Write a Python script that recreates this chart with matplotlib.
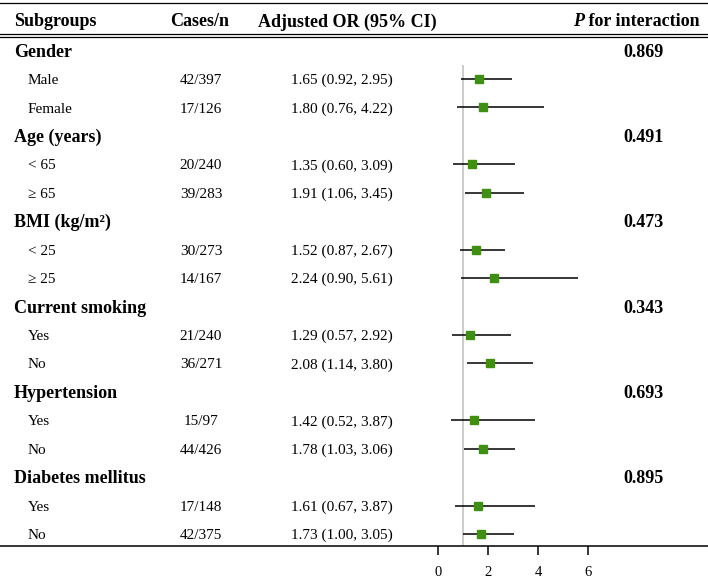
import matplotlib
matplotlib.use("Agg")
import matplotlib.pyplot as plt
from matplotlib.transforms import blended_transform_factory

plt.rcParams['font.family'] = ['Liberation Serif', 'DejaVu Serif']

# ---------------- data ----------------
groups = ["Gender", "Age (years)", "BMI (kg/m\u00b2)", "Current smoking",
          "Hypertension", "Diabetes mellitus"]
p_interaction = ["0.869", "0.491", "0.473", "0.343", "0.693", "0.895"]
sub_labels = [["Male", "Female"], ["< 65", "\u2265 65"], ["< 25", "\u2265 25"],
              ["Yes", "No"], ["Yes", "No"], ["Yes", "No"]]
cases = [["42/397", "17/126"], ["20/240", "39/283"], ["30/273", "14/167"],
         ["21/240", "36/271"], ["15/97", "44/426"], ["17/148", "42/375"]]
or_est = [[1.65, 1.80], [1.35, 1.91], [1.52, 2.24],
          [1.29, 2.08], [1.42, 1.78], [1.61, 1.73]]
ci_low = [[0.92, 0.76], [0.60, 1.06], [0.87, 0.90],
          [0.57, 1.14], [0.52, 1.03], [0.67, 1.00]]
ci_high = [[2.95, 4.22], [3.09, 3.45], [2.67, 5.61],
           [2.92, 3.80], [3.87, 3.06], [3.87, 3.05]]
x_ticks = [0, 2, 4, 6]
ref_value = 1

# ---------------- layout ----------------
W, H = 708, 582
row0_px, row_h = 50.6, 28.44
axis_px = 546.0
x0_px, px_per_unit = 438.0, 25.0
fs_b, fs_r = 13.0, 11.0
cap_b = 0.66 * fs_b * 100 / 72
cap_r = 0.66 * fs_r * 100 / 72

def r(py):
    return (py - row0_px) / row_h

def base(row, cap):
    # baseline position so that capitals are centred on the row
    return row + (cap / 2) / row_h

fig = plt.figure(figsize=(W / 100, H / 100), dpi=100)
ax = fig.add_axes([0, (H - axis_px) / H, 1, axis_px / H])
ax.set_xlim(-x0_px / px_per_unit, (W - x0_px) / px_per_unit)
ax.set_ylim(r(axis_px), r(0))

for s in ["top", "left", "right"]:
    ax.spines[s].set_visible(False)
ax.spines["bottom"].set_linewidth(1.1)
ax.set_yticks([])
ax.set_xticks(x_ticks)
ax.set_xticklabels([str(t) for t in x_ticks], fontsize=10.5)
ax.tick_params(axis="x", direction="out", length=6.5, width=1.1, pad=8)

tr = blended_transform_factory(ax.transAxes, ax.transData)
def fx(px):
    return px / W

# header rules
ax.axhline(r(3), color="black", lw=0.9)
ax.axhline(r(34.3), color="black", lw=0.9)
ax.axhline(r(37), color="black", lw=0.9)

hb = base(r(20.5), cap_b)
ax.text(fx(14), hb, "Subgroups", transform=tr, fontsize=fs_b, fontweight="bold", va="baseline", ha="left")
ax.text(fx(200), hb, "Cases/n", transform=tr, fontsize=fs_b, fontweight="bold", va="baseline", ha="center")
ax.text(fx(258), hb, "Adjusted OR (95% CI)", transform=tr, fontsize=fs_b, fontweight="bold",
        va="baseline", ha="left")
t_int = ax.text(fx(700), hb, " for interaction", transform=tr, fontsize=fs_b, fontweight="bold",
                va="baseline", ha="right")
fig.canvas.draw()
bb = t_int.get_window_extent()
ax.text(fx(bb.x0), hb, "P", transform=tr, fontsize=fs_b, fontweight="bold", fontstyle="italic",
        va="baseline", ha="right")

# reference line
ax.vlines(ref_value, r(65), r(axis_px), color="#c8c8c8", lw=1.3, zorder=1)

row = 0
for g in range(len(groups)):
    ax.text(fx(14), base(row, cap_b), groups[g], transform=tr, fontsize=fs_b, fontweight="bold",
            va="baseline", ha="left")
    ax.text(fx(643), base(row, cap_b), p_interaction[g], transform=tr, fontsize=fs_b, fontweight="bold",
            va="baseline", ha="center")
    row += 1
    for k in range(2):
        yb = base(row, cap_r)
        ax.text(fx(28), yb, sub_labels[g][k], transform=tr, fontsize=fs_r, va="baseline", ha="left")
        ax.text(fx(201), yb, cases[g][k], transform=tr, fontsize=fs_r, va="baseline", ha="center")
        ax.text(fx(342), yb, f"{or_est[g][k]:.2f} ({ci_low[g][k]:.2f}, {ci_high[g][k]:.2f})",
                transform=tr, fontsize=fs_r, va="baseline", ha="center")
        ax.hlines(row, ci_low[g][k], ci_high[g][k], color="black", lw=1.1, zorder=2)
        ax.plot(or_est[g][k], row, marker="s", ms=5.5, color="#3f8f12", mec="#3f8f12", zorder=3)
        row += 1

fig.savefig("out.png", dpi=100)
